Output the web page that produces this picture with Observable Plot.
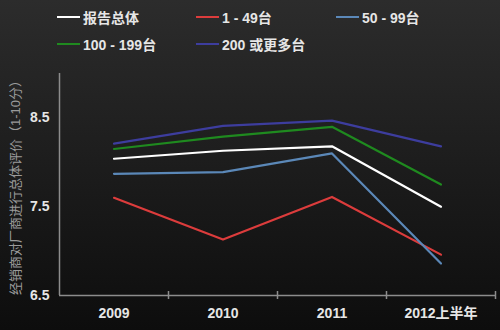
<!DOCTYPE html>
<html><head><meta charset="utf-8">
<script src="https://cdn.jsdelivr.net/npm/d3@7"></script>
<script src="https://cdn.jsdelivr.net/npm/@observablehq/plot@0.6"></script>
<style>
html,body{margin:0;padding:0;}
body{width:500px;height:330px;overflow:hidden;background:linear-gradient(#2c2c2c,#0d0d0d);font-family:"Liberation Sans","Noto Sans CJK SC",sans-serif;}
#legend{position:relative;height:58px;}
.item{position:absolute;display:flex;align-items:center;font-size:14px;font-weight:bold;color:#e6e6e6;transform:translateY(-50%);white-space:nowrap;}
.sw{width:23px;height:2px;margin-right:3px;}
#chart svg{display:block;}
</style></head><body>
<div id="legend"></div><div id="chart"></div>
<script>
const categories = ["2009", "2010", "2011", "2012上半年"];
const seriesNames = ["报告总体", "1 - 49台", "50 - 99台", "100 - 199台", "200 或更多台"];
const colors = ["#ffffff", "#dc3c3c", "#5b88b8", "#1f8a1f", "#3d3d9e"];
const overall = [8.04, 8.13, 8.18, 7.50];
const s1to49 = [7.60, 7.13, 7.61, 6.96];
const s50to99 = [7.87, 7.89, 8.10, 6.86];
const s100to199 = [8.15, 8.29, 8.40, 7.75];
const s200plus = [8.21, 8.41, 8.47, 8.18];
const yTicks = [6.5, 7.5, 8.5];
const yLabel = "经销商对厂商进行总体评价（1-10分）";

const seriesValues = [overall, s1to49, s50to99, s100to199, s200plus];
const rows = [];
seriesValues.forEach((vals, s) => vals.forEach((v, i) => rows.push({i, v, s: seriesNames[s]})));
const idx = categories.map((c, i) => i);
const boundaries = categories.map((c, i) => i + 0.5);

// legend
const legendPos = [[57, 17], [196, 17], [336, 17], [57, 44], [196, 44]];
const leg = document.getElementById("legend");
seriesNames.forEach((n, k) => {
  const d = document.createElement("div");
  d.className = "item";
  d.style.left = legendPos[k][0] + "px";
  d.style.top = legendPos[k][1] + "px";
  d.innerHTML = `<span class="sw" style="background:${colors[k]}"></span><span>${n}</span>`;
  leg.appendChild(d);
});

const chart = Plot.plot({
  width: 500,
  height: 272,
  marginTop: 15,
  marginBottom: 35,
  marginLeft: 59,
  marginRight: 5,
  style: {background: "transparent", color: "#e6e6e6", fontSize: "14px", fontWeight: "bold", fontFamily: "'Liberation Sans','Noto Sans CJK SC',sans-serif"},
  x: {domain: [-0.5, 3.5], axis: null},
  y: {domain: [6.5, 9.0], axis: null},
  color: {domain: seriesNames, range: colors},
  marks: [
    Plot.ruleY([6.5], {stroke: "#8c8c8c", strokeWidth: 1.5}),
    Plot.ruleX([-0.5], {stroke: "#8c8c8c", strokeWidth: 1.5}),
    Plot.ruleX(boundaries, {y1: 6.5, y2: 6.5, insetTop: -4, insetBottom: -4, stroke: "#8c8c8c", strokeWidth: 1.5}),
    Plot.axisY(yTicks, {tickSize: 0, tickPadding: 10, tickFormat: d => d.toFixed(1), fill: "#e6e6e6", label: null}),
    Plot.axisX(idx, {tickSize: 0, tickPadding: 13, tickFormat: i => categories[i], fill: "#e6e6e6", label: null}),
    Plot.text([yLabel], {text: d => d, frameAnchor: "left", textAnchor: "middle", rotate: -90, dx: -44, fontSize: 13, fontWeight: "normal", fill: "#9a9a9a"}),
    Plot.line(rows, {x: "i", y: "v", z: "s", stroke: "s", strokeWidth: 2.2})
  ]
});
document.getElementById("chart").appendChild(chart);
</script>
</body></html>
